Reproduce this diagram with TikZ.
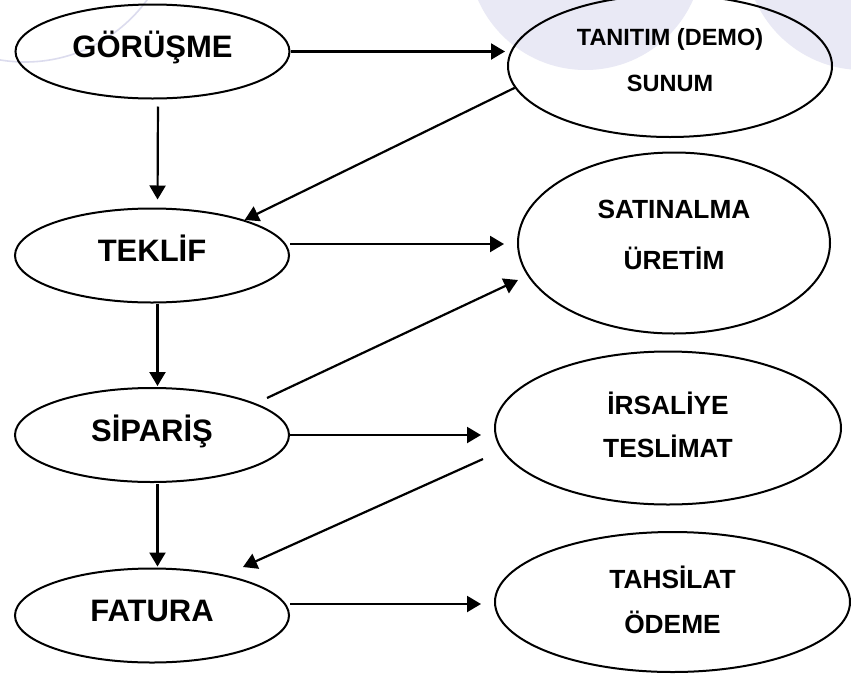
\documentclass[tikz,border=0pt]{standalone}
\usepackage{fontspec}
\setmainfont{Liberation Sans}
\usetikzlibrary{arrows.meta,shapes.geometric}
\definecolor{lavender}{RGB}{233,233,245}
\definecolor{lavline}{RGB}{220,220,238}

\tikzset{
  stage/.style={draw, line width=2pt, ellipse, inner sep=0pt,
    minimum width=274pt, minimum height=94pt, text height=22pt, text depth=9.8pt,
    font=\fontsize{31}{31}\selectfont\bfseries},
  outcome/.style={draw, line width=2pt, ellipse, inner sep=0pt, align=center,
    font=\fontsize{26.3}{46}\selectfont\bfseries},
  flow/.style={line width=2.2pt, -{Triangle[length=14pt,width=16pt]}},
}

\begin{document}
\begin{tikzpicture}[x=1pt,y=1pt,yscale=-1]
\useasboundingbox (0,0) rectangle (851,675);
\clip (0,0) rectangle (851,675);
\fill[white] (0,0) rectangle (851,675);

%Shape: Circle (background)
\fill[lavender] (585.5,-47.5) circle (117.5pt);
\fill[lavender] (862.5,-47.5) circle (117.5pt);
\draw[lavline, line width=1.6pt] (25,-89) circle (151pt);

%Shape: Ellipse
\node[stage] (gor) at (152.5,51.5) {GÖRÜŞME};
\node[stage] (tek) at (152,255.5) {TEKLİF};
\node[stage] (sip) at (152,435) {SİPARİŞ};
\node[stage] (fat) at (152,615.5) {FATURA};

%Shape: Ellipse
\node[outcome, minimum width=324pt, minimum height=142pt, text depth=12pt,
  font=\fontsize{23.5}{46}\selectfont\bfseries] (tan) at (670,66) {TANITIM (DEMO)\\SUNUM};
\node[outcome, minimum width=312pt, minimum height=181pt, text depth=16pt,
  font=\fontsize{26.3}{51}\selectfont\bfseries] (sat) at (674,243) {SATINALMA\\ÜRETİM};
\node[outcome, minimum width=346pt, minimum height=153pt, text depth=6pt,
  font=\fontsize{26.3}{43}\selectfont\bfseries] (irs) at (668,428) {İRSALİYE\\TESLİMAT};
\node[outcome, minimum width=355pt, minimum height=140pt, text depth=4pt,
  font=\fontsize{26.3}{45}\selectfont\bfseries] (tah) at (672.5,602) {TAHSİLAT\\ÖDEME};

%Straight Lines
\draw[flow, shorten >=2pt] (gor.east) -- (gor.east -| tan.west);
\draw[flow, shorten <=7pt, shorten >=8pt] ([xshift=5.5pt]gor.south) -- ([xshift=5.5pt]tek.north);
\draw[flow] (tan.188) -- (tek.21);
%Straight Lines
\draw[flow, shorten >=13pt] ([yshift=-11.5pt]tek.east) -- ([yshift=-11.5pt]tek.east -| sat.west);
\draw[flow, shorten >=1pt] ([xshift=5.5pt]tek.south) -- ([xshift=5.5pt]sip.north);
\draw[flow] ([shift={(115,-37)}]sip.center) -- ([shift={(-156,37)}]sat.center);
%Straight Lines
\draw[flow, shorten >=13pt] (sip.east) -- (sip.east -| irs.west);
\draw[flow] ([shift={(-185,31)}]irs.center) -- ([shift={(91,-48.5)}]fat.center);
\draw[flow, shorten <=1pt, shorten >=1pt] ([xshift=5.5pt]sip.south) -- ([xshift=5.5pt]fat.north);
%Straight Lines
\draw[flow, shorten >=13pt] ([yshift=-11.5pt]fat.east) -- ([yshift=-11.5pt]fat.east -| tah.west);

\end{tikzpicture}
\end{document}
